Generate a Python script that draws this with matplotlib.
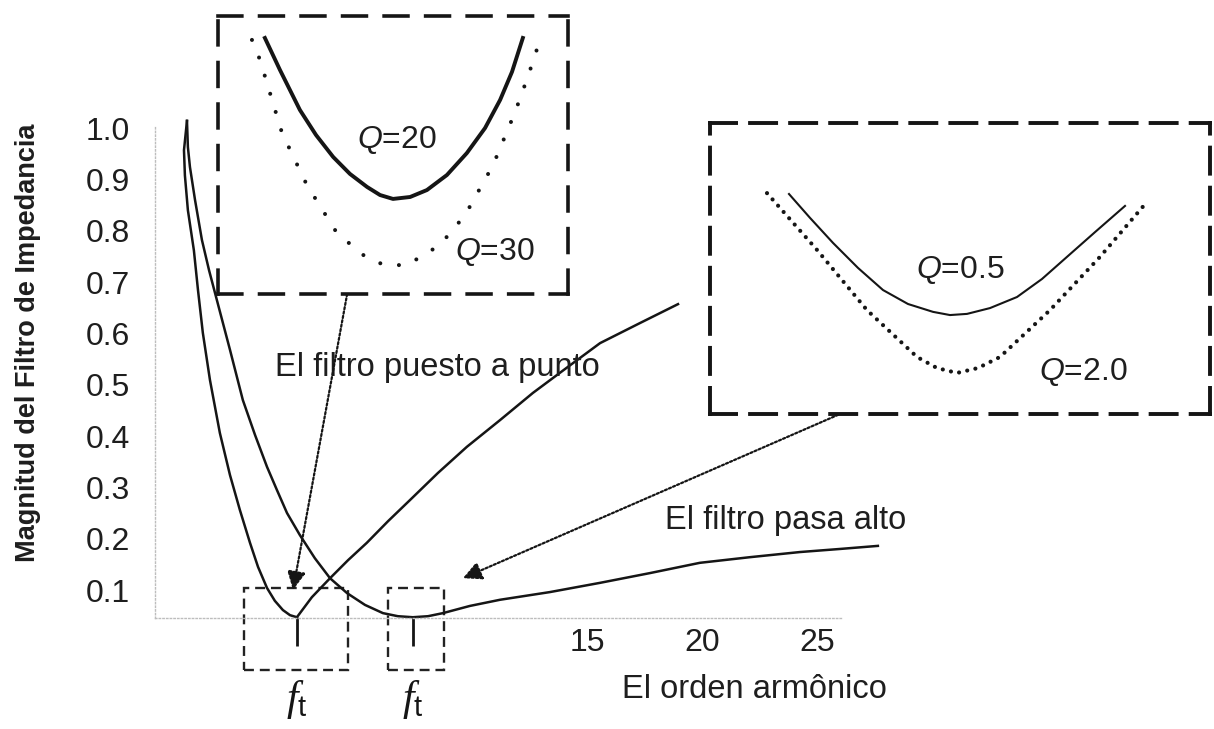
import matplotlib
matplotlib.use("Agg")
import matplotlib.pyplot as plt
from matplotlib.patches import Rectangle

plt.rcParams["font.family"] = ["Liberation Sans", "DejaVu Sans"]
plt.rcParams["mathtext.fontset"] = "custom"
plt.rcParams["mathtext.rm"] = "Liberation Sans"
plt.rcParams["mathtext.it"] = "Liberation Sans:italic"
plt.rcParams["mathtext.cal"] = "Liberation Serif:italic"

INK = "#151515"

# main curves (harmonic order, normalised impedance magnitude)
tuned_x = [-2.39, -2.52, -2.48, -2.35, -2.09, -1.91, -1.70, -1.39, -0.96, -0.52,
           -0.09, 0.35, 0.70, 1.09, 1.43, 1.78, 2.09, 2.39,
           3.04, 3.83, 4.61, 5.43, 6.35, 7.30, 8.52, 9.78, 11.22, 12.65,
           14.09, 15.57, 17.30, 18.96]
tuned_y = [1.014, 0.957, 0.908, 0.840, 0.762, 0.684, 0.601, 0.509, 0.406, 0.324,
           0.256, 0.192, 0.145, 0.104, 0.079, 0.061, 0.051, 0.047,
           0.086, 0.123, 0.158, 0.192, 0.234, 0.275, 0.328, 0.379, 0.431, 0.484,
           0.532, 0.581, 0.620, 0.657]

highpass_x = [-2.39, -2.35, -2.26, -2.04, -1.74, -1.43, -1.09, -0.52, 0.04, 0.57,
              1.09, 1.52, 1.96, 2.52, 3.17, 3.83, 4.57, 5.35, 6.13, 6.78,
              7.43, 8.09, 8.74, 9.91, 11.22, 13.39, 15.57, 17.74, 19.91, 22.09,
              24.26, 26.00, 27.65]
highpass_y = [1.014, 0.963, 0.924, 0.860, 0.782, 0.723, 0.665, 0.568, 0.470, 0.402,
              0.340, 0.295, 0.250, 0.207, 0.162, 0.123, 0.094, 0.071, 0.055, 0.049,
              0.047, 0.049, 0.055, 0.069, 0.081, 0.096, 0.114, 0.133, 0.153, 0.164,
              0.174, 0.180, 0.186]

ft_positions = [2.39, 7.43]
y_ticks = [0.1, 0.2, 0.3, 0.4, 0.5, 0.6, 0.7, 0.8, 0.9, 1.0]
x_ticks = [15, 20, 25]

# zoomed detail near the tuned filter minimum (normalised inset units)
q20_x = [0.134, 0.177, 0.234, 0.280, 0.329, 0.377, 0.426, 0.463, 0.500, 0.549,
         0.597, 0.654, 0.711, 0.763, 0.806, 0.840, 0.871]
q20_y = [0.921, 0.806, 0.662, 0.572, 0.493, 0.432, 0.385, 0.356, 0.342, 0.349,
         0.374, 0.428, 0.507, 0.597, 0.698, 0.799, 0.921]
q30_x = [0.097, 0.120, 0.183, 0.254, 0.340, 0.426, 0.477, 0.540, 0.634, 0.706,
         0.786, 0.849, 0.886, 0.920]
q30_y = [0.914, 0.842, 0.579, 0.392, 0.219, 0.129, 0.104, 0.104, 0.176, 0.284,
         0.464, 0.655, 0.784, 0.914]

# zoomed detail near the high-pass minimum
q05_x = [0.158, 0.200, 0.246, 0.296, 0.346, 0.396, 0.446, 0.480, 0.514, 0.560,
         0.614, 0.664, 0.714, 0.770, 0.830]
q05_y = [0.756, 0.674, 0.588, 0.502, 0.426, 0.378, 0.351, 0.340, 0.344, 0.364,
         0.402, 0.464, 0.540, 0.625, 0.715]
q2_x = [0.114, 0.214, 0.314, 0.414, 0.454, 0.494, 0.536, 0.580, 0.680, 0.780, 0.874]
q2_y = [0.759, 0.564, 0.357, 0.196, 0.158, 0.141, 0.158, 0.196, 0.357, 0.540, 0.729]

W, H = 1214, 729
fig = plt.figure(figsize=(W / 100, H / 100), dpi=100)


def px_box(x0, y0, x1, y1):
    return [x0 / W, 1 - y1 / H, (x1 - x0) / W, (y1 - y0) / H]


ax = fig.add_axes(px_box(155, 125, 842, 618))
ax.set_xlim(-3.78, 26.09)
ax.set_ylim(0.0455, 1.006)

ax.plot(tuned_x, tuned_y, color=INK, lw=1.8, clip_on=False)
ax.plot(highpass_x, highpass_y, color=INK, lw=1.8, clip_on=False)
ax.vlines(ft_positions, -0.009, 0.047, color=INK, lw=2, clip_on=False)

for x0, x1 in [(0.09, 4.61), (6.35, 8.78)]:
    ax.add_patch(Rectangle((x0, -0.056), x1 - x0, 0.16, fill=False, ec="#222",
                           lw=1.7, ls=(0, (4.2, 2.5)), clip_on=False))

for x in ft_positions:
    ax.text(x, -0.114, r"$\mathcal{f}_{\mathrm{t}}$", fontsize=30, color=INK,
            ha="center", va="center", clip_on=False)

ax.text(1.43, 0.534, "El filtro puesto a punto", fontsize=23.5, color="#1e1e1e",
        va="center")
ax.text(18.39, 0.236, "El filtro pasa alto", fontsize=23.5, color="#1e1e1e",
        va="center")

for side in ["top", "right"]:
    ax.spines[side].set_visible(False)
for side in ["left", "bottom"]:
    ax.spines[side].set_linestyle(":")
    ax.spines[side].set_color("#bdbdbd")
    ax.spines[side].set_linewidth(1.0)

ax.set_yticks(y_ticks)
ax.set_yticklabels([f"{v:.1f}" for v in y_ticks])
ax.set_xticks(x_ticks)
ax.tick_params(axis="y", length=0, pad=18, labelsize=23, labelcolor="#1e1e1e")
ax.tick_params(axis="x", length=0, pad=7, labelsize=23, labelcolor="#1e1e1e")

ax.set_ylabel("Magnitud del Filtro de Impedancia", fontsize=19.5,
              fontweight="bold", color="#1e1e1e", va="center")
ax.yaxis.set_label_coords(-0.185, 0.558)
ax.set_xlabel("El orden armônico", fontsize=23.5, color="#1e1e1e", va="center")
ax.xaxis.set_label_coords(0.873, -0.146)

# inset: tuned filter
ins1 = fig.add_axes(px_box(218, 16, 568, 294))
ins1.set_xlim(0, 1)
ins1.set_ylim(0, 1)
ins1.set_facecolor("none")
ins1.set_xticks([])
ins1.set_yticks([])
for sp in ins1.spines.values():
    sp.set_linestyle((0, (6.6, 4.9)))
    sp.set_linewidth(2.6)
    sp.set_color(INK)
ins1.plot(q20_x, q20_y, color=INK, lw=2.8, solid_joinstyle="round")
ins1.plot(q30_x, q30_y, color=INK, lw=2.9, ls=(0, (0.01, 4.7)),
          dash_capstyle="round")
ins1.text(0.511, 0.554, r"$Q$=20", fontsize=23, color="#1e1e1e",
          ha="center", va="center")
ins1.text(0.791, 0.151, r"$Q$=30", fontsize=23, color="#1e1e1e",
          ha="center", va="center")

# inset: high-pass filter
ins2 = fig.add_axes(px_box(710, 123, 1210, 414))
ins2.set_xlim(0, 1)
ins2.set_ylim(0, 1)
ins2.set_facecolor("none")
ins2.set_xticks([])
ins2.set_yticks([])
for sp in ins2.spines.values():
    sp.set_linestyle((0, (6.7, 3.6)))
    sp.set_linewidth(2.8)
    sp.set_color(INK)
ins2.plot(q05_x, q05_y, color=INK, lw=1.5)
ins2.plot(q2_x, q2_y, color=INK, lw=3.0, ls=(0, (0.01, 2.0)),
          dash_capstyle="round")
ins2.text(0.5, 0.495, r"$Q$=0.5", fontsize=23, color="#1e1e1e",
          ha="center", va="center")
ins2.text(0.746, 0.144, r"$Q$=2.0", fontsize=23, color="#1e1e1e",
          ha="center", va="center")

arrow = dict(arrowstyle="-|>", color=INK, lw=1.6, ls=(0, (1, 1)),
             mutation_scale=28, shrinkA=0, shrinkB=0)
ax.annotate("", xy=(2.22, 0.1), xycoords="data", xytext=(0.369, 0.0),
            textcoords=ins1.transAxes, arrowprops=arrow, annotation_clip=False)
ax.annotate("", xy=(9.61, 0.123), xycoords="data", xytext=(0.256, -0.003),
            textcoords=ins2.transAxes, arrowprops=arrow, annotation_clip=False)

fig.savefig("out.png", dpi=100)
